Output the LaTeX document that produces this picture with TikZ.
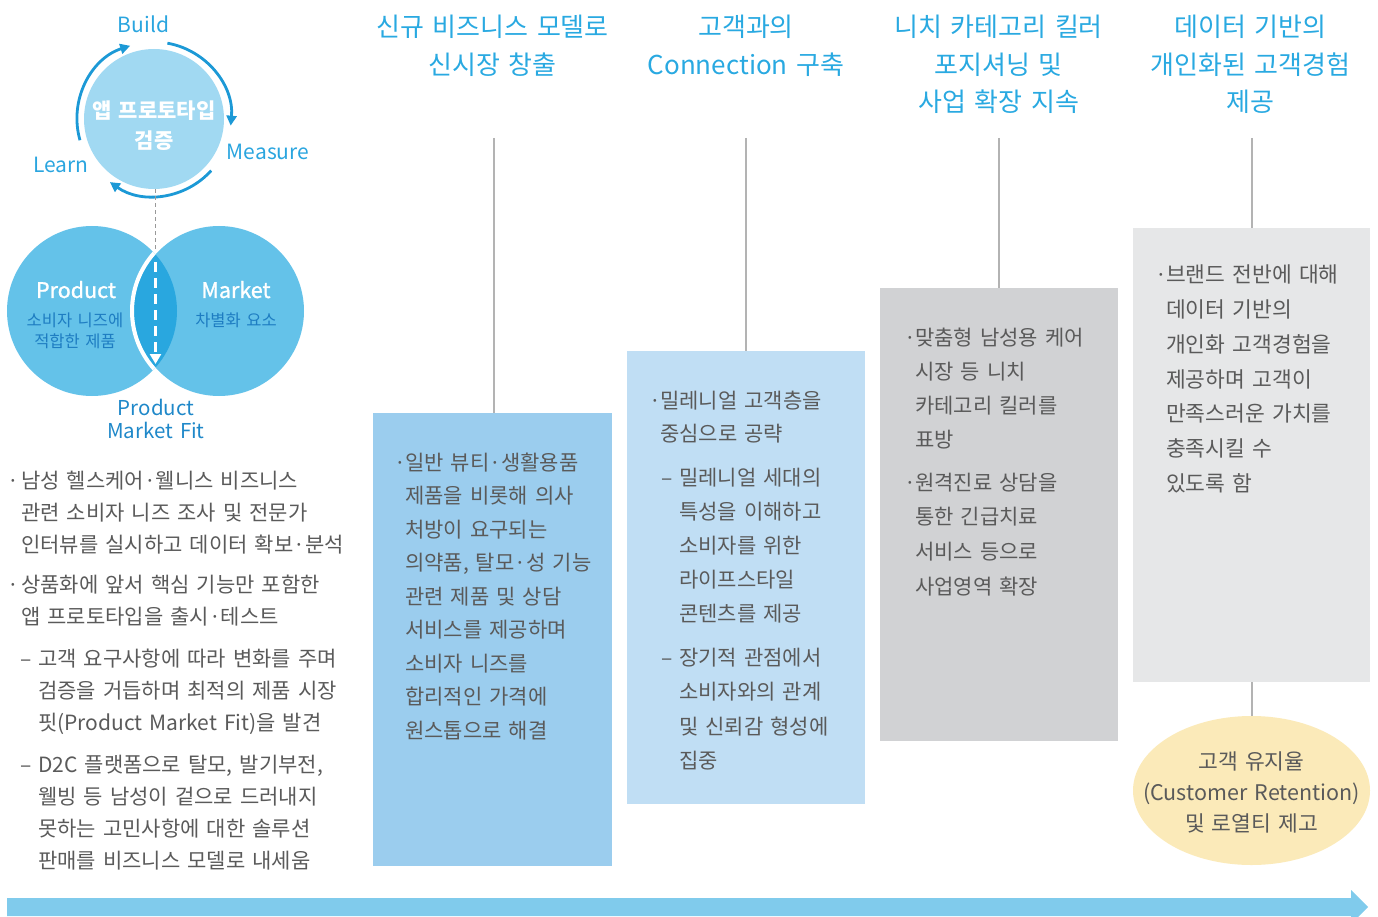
\documentclass[tikz,border=0pt]{standalone}
\usepackage{fontspec}
\setmainfont{Noto Sans CJK KR}
\newfontfamily\medfont[FakeBold=1.2]{Noto Sans CJK KR}
\usetikzlibrary{shapes.geometric,arrows.meta,calc}
\definecolor{headblue}{HTML}{29A9E1}
\definecolor{arcblue}{HTML}{1C99D6}
\definecolor{lblblue}{HTML}{2AA5DF}
\definecolor{txtgray}{HTML}{5A5A5A}
\definecolor{protofill}{HTML}{A1D9F2}
\definecolor{vennfill}{HTML}{64C2E9}
\definecolor{lensfill}{HTML}{29A7DF}
\definecolor{subblue}{HTML}{1E7DC2}
\definecolor{pmfblue}{HTML}{1F88C9}
\definecolor{boxa}{HTML}{9BCDEE}
\definecolor{boxb}{HTML}{C0DEF4}
\definecolor{boxc}{HTML}{D1D2D4}
\definecolor{boxd}{HTML}{E6E7E8}
\definecolor{ellfill}{HTML}{FBEAB9}
\definecolor{linegray}{HTML}{B3B3B3}
\definecolor{arrowfill}{HTML}{80CBEC}
\begin{document}
\begin{tikzpicture}[x=1pt,y=-1pt,
  head/.style={anchor=base, inner sep=0, text width=340, align=center, text=headblue, font=\fontsize{26}{37.5}\selectfont},
  body/.style={anchor=base west, inner sep=0, text width=420, align=left, text=txtgray, font=\fontsize{21}{32}\selectfont},
  bmark/.style={anchor=base west, inner sep=0, text=txtgray, font=\fontsize{21}{32}\selectfont},
  colbox/.style={anchor=north west, inner sep=0, draw=none, minimum width=238, minimum height=453},
  vline/.style={draw=linegray, line width=1.2pt},
  cyc/.style={draw=arcblue, line width=2.8pt, -{Triangle[length=10pt,width=10pt]}},
  lbl/.style={anchor=base, inner sep=0, text=lblblue, font=\fontsize{21}{25}\selectfont},
  ctr/.style={anchor=base, inner sep=0, text width=240, align=center}
]
\useasboundingbox (0,0) rectangle (1378,917);

% ---------- headers ----------
\node[head] (h1) at (492.5,37) {신규 비즈니스 모델로\\신시장 창출};
\node[head] (h2) at (746,37) {고객과의\\Connection 구축};
\node[head] (h3) at (998.5,37) {니치 카테고리 킬러\\포지셔닝 및\\사업 확장 지속};
\node[head] (h4) at (1250.5,37) {데이터 기반의\\개인화된 고객경험\\제공};

% ---------- boxes ----------
\node[colbox, fill=boxa, minimum width=239] (b1) at (373,413) {};
\node[colbox, fill=boxb] (b2) at (627,351) {};
\node[colbox, fill=boxc] (b3) at (880,288) {};
\node[colbox, fill=boxd, minimum width=237, minimum height=454] (b4) at (1133,228) {};

\coordinate (t1) at (494,138);
\coordinate (t2) at (746,138);
\coordinate (t3) at (999,138);
\coordinate (t4) at (1252,138);
\draw[vline] (t1) -- (t1 |- b1.north);
\draw[vline] (t2) -- (t2 |- b2.north);
\draw[vline] (t3) -- (t3 |- b3.north);
\draw[vline] (t4) -- (t4 |- b4.north);

% ---------- ellipse ----------
\node[ellipse, fill=ellfill, minimum width=237, minimum height=149, inner sep=0] (ell) at (1251.5,790.5) {};
\node[ctr, text=txtgray, font=\fontsize{21.5}{31}\selectfont] (ellt) at (1251.5,769) {고객 유지율\\(Customer Retention)\\및 로열티 제고};
\draw[vline] (b4.south -| t4) -- (ell.north -| t4);

% ---------- box texts ----------
\node[bmark] (m1) at (394,470) {·};
\node[body, font=\fontsize{21}{33.5}\selectfont] (x1) at (405,470) {일반 뷰티·생활용품\\제품을 비롯해 의사\\처방이 요구되는\\의약품, 탈모·성 기능\\관련 제품 및 상담\\서비스를 제공하며\\소비자 니즈를\\합리적인 가격에\\원스톱으로 해결};

\node[bmark] (m2) at (649,408) {·};
\node[body, font=\fontsize{21}{33}\selectfont] (x2) at (660,408) {밀레니얼 고객층을\\중심으로 공략};
\node[bmark] (m2a) at (661,485) {–};
\node[body, font=\fontsize{21}{34}\selectfont] (x2a) at (679,485) {밀레니얼 세대의\\특성을 이해하고\\소비자를 위한\\라이프스타일\\콘텐츠를 제공};
\node[bmark] (m2b) at (661,665) {–};
\node[body, font=\fontsize{21}{34.5}\selectfont] (x2b) at (679,665) {장기적 관점에서\\소비자와의 관계\\및 신뢰감 형성에\\집중};

\node[bmark] (m3) at (904,345) {·};
\node[body, font=\fontsize{21}{34}\selectfont] (x3) at (915,345) {맞춤형 남성용 케어\\시장 등 니치\\카테고리 킬러를\\표방};
\node[bmark] (m3b) at (904,490) {·};
\node[body, font=\fontsize{21}{34.7}\selectfont] (x3b) at (915,490) {원격진료 상담을\\통한 긴급치료\\서비스 등으로\\사업영역 확장};

\node[bmark] (m4) at (1155,283) {·};
\node[body, font=\fontsize{21.5}{34.7}\selectfont] (x4) at (1166,283) {브랜드 전반에 대해\\데이터 기반의\\개인화 고객경험을\\제공하며 고객이\\만족스러운 가치를\\충족시킬 수\\있도록 함};

% ---------- left texts ----------
\node[bmark] (lm1) at (7,488) {·};
\node[body] (lx1) at (21,488) {남성 헬스케어·웰니스 비즈니스\\관련 소비자 니즈 조사 및 전문가\\인터뷰를 실시하고 데이터 확보·분석};
\node[bmark] (lm2) at (7,592) {·};
\node[body] (lx2) at (21,592) {상품화에 앞서 핵심 기능만 포함한\\앱 프로토타입을 출시·테스트};
\node[bmark] (lm3) at (20,666) {–};
\node[body] (lx3) at (38,666) {고객 요구사항에 따라 변화를 주며\\검증을 거듭하며 최적의 제품 시장\\핏(Product Market Fit)을 발견};
\node[bmark] (lm4) at (20,772) {–};
\node[body] (lx4) at (38,772) {D2C 플랫폼으로 탈모, 발기부전,\\웰빙 등 남성이 겉으로 드러내지\\못하는 고민사항에 대한 솔루션\\판매를 비즈니스 모델로 내세움};

% ---------- prototype cycle ----------
\node[circle, fill=protofill, minimum size=140, inner sep=0] (proto) at (154,119) {};
\node[ctr, text=white, font=\bfseries\fontsize{21}{30}\selectfont] (protot) at (154,119) {앱 프로토타입\\검증};
\draw[cyc] ($(proto.center)+(80:77pt)$) arc[start angle=80, end angle=-5, radius=77pt];
\draw[cyc] ($(proto.center)+(-42:77pt)$) arc[start angle=-42, end angle=-125, radius=77pt];
\draw[cyc] ($(proto.center)+(196:77pt)$) arc[start angle=196, end angle=108, radius=77pt];
\node[lbl] (build) at (143.5,33) {Build};
\node[lbl] (measure) at (268,160) {Measure};
\node[lbl] (learn) at (61,173) {Learn};

% ---------- Venn ----------
\node[circle, fill=vennfill, minimum size=170, inner sep=0] (prod) at (92,311) {};
\node[circle, fill=vennfill, minimum size=170, inner sep=0] (mkt) at (219,311) {};
\begin{scope}
  \clip (prod.center) circle[radius=85pt];
  \fill[lensfill] (mkt.center) circle[radius=85pt];
  \draw[white, line width=4pt] (mkt.center) circle[radius=87pt];
\end{scope}
\coordinate (lenstop) at (155.5,252);
\coordinate (dstart) at (155.5,262);
\coordinate (dend) at (155.5,364);
\draw[gray!80, line width=1.5pt, dash pattern=on 4pt off 3pt] (proto.south -| lenstop) -- (lenstop);
\draw[white, line width=2.8pt, dash pattern=on 10pt off 6pt, -{Triangle[length=10pt,width=11pt]}] (dstart) -- (dend);

\node[ctr, text=white, font=\medfont\fontsize{21.5}{26}\selectfont] (prodl) at (76,298) {Product};
\node[ctr, text=subblue, font=\fontsize{16.5}{21}\selectfont] (prods) at (75,326) {소비자 니즈에\\적합한 제품};
\node[ctr, text=white, font=\medfont\fontsize{21.5}{26}\selectfont] (mktl) at (236,298) {Market};
\node[ctr, text=subblue, font=\fontsize{16.5}{21}\selectfont] (mkts) at (236,326) {차별화 요소};
\node[ctr, text=pmfblue, font=\fontsize{20.5}{23}\selectfont] (pmf) at (156,415) {Product\\Market Fit};

% ---------- bottom arrow ----------
\fill[arrowfill] (7,898) -- (1351,898) -- (1351,890) -- (1368,907) -- (1351,924) -- (1351,916) -- (7,916) -- cycle;
\end{tikzpicture}
\end{document}
